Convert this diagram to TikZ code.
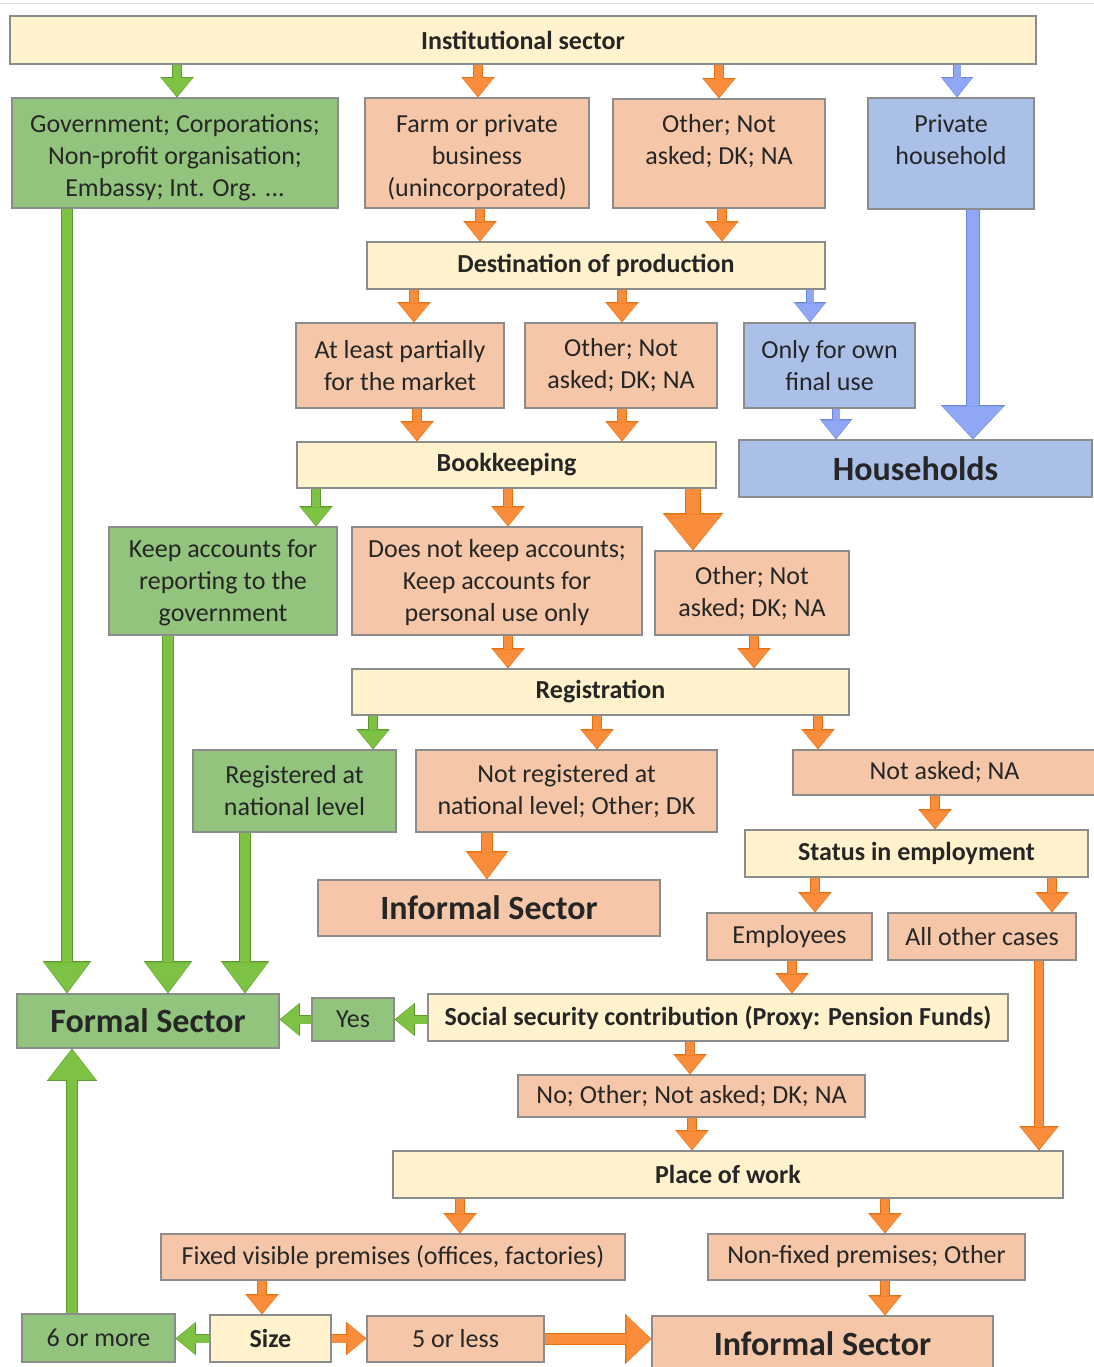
\documentclass[tikz,border=0pt]{standalone}
\usepackage{fontspec}
\setmainfont{Carlito}
\usetikzlibrary{arrows.meta}
\definecolor{cream}{HTML}{FFF2CC}
\definecolor{salmon}{HTML}{F5C7A8}
\definecolor{grn}{HTML}{93C47D}
\definecolor{blu}{HTML}{ABC0E8}
\definecolor{bordc}{HTML}{8C8C8C}
\definecolor{txtc}{HTML}{262626}
\definecolor{oF}{HTML}{F98D3B}
\definecolor{oE}{HTML}{E4700F}
\definecolor{gF}{HTML}{7DC242}
\definecolor{gE}{HTML}{5C9A2C}
\definecolor{bF}{HTML}{8FA7F5}
\definecolor{bE}{HTML}{6C86DA}
\tikzset{
  box/.style={draw=bordc, line width=1.1pt, align=center, inner sep=0pt, text=txtc,
    font=\fontsize{26}{32}\selectfont},
  txtlab/.style={align=center, inner sep=0pt, text=txtc, font=\fontsize{26}{32}\selectfont},
  cbox/.style={box, fill=cream, font=\fontsize{26}{32}\selectfont\bfseries},
  sbox/.style={box, fill=salmon},
  gbox/.style={box, fill=grn},
  bbox/.style={box, fill=blu},
  bigtxt/.style={font=\fontsize{34}{40}\selectfont\bfseries},
  barrow/.code n args={5}{%
    \pgfmathsetmacro\baOW{#3+1.6}%
    \pgfmathsetmacro\baHW{#4+2.6}%
    \pgfmathsetmacro\baHL{#5+2.4}%
    \edef\baTmp{\noexpand\tikzset{preaction={draw=#2, line width=\baOW pt, shorten >=0pt,
      -{Triangle[width=\baHW pt, length=\baHL pt, line width=0pt]}},
      draw=#1, line width=#3pt, shorten >=1.2pt,
      -{Triangle[width=#4pt, length=#5pt, line width=0pt]}}}%
    \baTmp},
  oa/.style={barrow={oF}{oE}{8}{31}{18}},
  ga/.style={barrow={gF}{gE}{8}{31}{18}},
  ba/.style={barrow={bF}{bE}{7}{30}{18}},
}
\begin{document}
\begin{tikzpicture}[x=1pt,y=-1pt]
\useasboundingbox (0,0) rectangle (1094,1367);
\draw[draw=black!12, line width=1pt] (0,4) -- (1094,4);
% nodes
\node[cbox, minimum width=1026, minimum height=48] (inst) at (523,40) {Institutional sector};
\node[gbox, minimum width=326, minimum height=110,
  label={[txtlab, yshift=-5pt]center:{Government; Corporations;\\Non-profit organisation;\\Embassy; Int. Org. ...}}] (gov) at (175,153) {};
\node[sbox, minimum width=224, minimum height=110,
  label={[txtlab, yshift=-5pt]center:{Farm or private\\business\\(unincorporated)}}] (farm) at (477,153) {};
\node[sbox, minimum width=212, minimum height=109,
  label={[txtlab, yshift=-2pt]center:{Other; Not\\asked; DK; NA\\~}}] (oth1) at (719,153.5) {};
\node[bbox, minimum width=166, minimum height=111,
  label={[txtlab, yshift=-2pt]center:{Private\\household\\~}}] (priv) at (951,153.5) {};
\node[cbox, minimum width=458, minimum height=47] (dest) at (596,265.5) {Destination of production};
\node[sbox, minimum width=208, minimum height=85] (atl) at (400,365.5) {At least partially\\for the market};
\node[sbox, minimum width=192, minimum height=85] (oth2) at (621,365.5) {Other; Not\\asked; DK; NA};
\node[bbox, minimum width=171, minimum height=85] (own) at (829.5,365.5) {Only for own\\final use};
\node[bbox, bigtxt, minimum width=353, minimum height=57] (hh) at (915.5,468.5) {Households};
\node[cbox, minimum width=419, minimum height=46] (book) at (506.5,465) {Bookkeeping};
\node[gbox, minimum width=228, minimum height=108,
  label={[txtlab, yshift=-2pt]center:{Keep accounts for\\reporting to the\\government}}] (keep) at (223,581) {};
\node[sbox, minimum width=290, minimum height=108,
  label={[txtlab, yshift=-2pt]center:{Does not keep accounts;\\Keep accounts for\\personal use only}}] (dnk) at (497,581) {};
\node[sbox, minimum width=194, minimum height=84] (oth3) at (752,593) {Other; Not\\asked; DK; NA};
\node[cbox, minimum width=497, minimum height=46] (reg) at (600.5,692) {Registration};
\node[gbox, minimum width=203, minimum height=82] (regn) at (294.5,791) {Registered at\\national level};
\node[sbox, minimum width=301, minimum height=82] (nreg) at (566.5,791) {Not registered at\\national level; Other; DK};
\node[sbox, minimum width=303, minimum height=45] (nask) at (944.5,772.5) {Not asked; NA};
\node[sbox, bigtxt, minimum width=342, minimum height=56] (inf1) at (489,908) {Informal Sector};
\node[cbox, minimum width=343, minimum height=47] (stat) at (916.5,853.5) {Status in employment};
\node[sbox, minimum width=165, minimum height=47] (emp) at (789.5,936.5) {Employees};
\node[sbox, minimum width=188, minimum height=47] (allo) at (982,936.5) {All other cases};
\node[gbox, bigtxt, minimum width=262, minimum height=54] (formal) at (148,1021) {Formal Sector};
\node[gbox, minimum width=82, minimum height=43] (yes) at (353,1019.5) {Yes};
\node[cbox, minimum width=580, minimum height=47] (soc) at (718,1017.5) {Social security contribution (Proxy: Pension Funds)};
\node[sbox, minimum width=347, minimum height=42] (no) at (691.5,1096) {No; Other; Not asked; DK; NA};
\node[cbox, minimum width=670, minimum height=47] (pow) at (728,1174.5) {Place of work};
\node[sbox, minimum width=464, minimum height=46] (fix) at (393,1257) {Fixed visible premises (offices, factories)};
\node[sbox, minimum width=317, minimum height=46] (nonf) at (866.5,1257) {Non-fixed premises; Other};
\node[gbox, minimum width=153, minimum height=48] (six) at (98.5,1338) {6 or more};
\node[cbox, minimum width=121, minimum height=47] (size) at (270.5,1338.5) {Size};
\node[sbox, minimum width=177, minimum height=46] (five) at (455.5,1339) {5 or less};
\node[sbox, bigtxt, minimum width=341, minimum height=56] (inf2) at (822.5,1344) {Informal Sector};
% arrows
\draw[ga] (inst.south -| 177,0) -- (gov.north -| 177,0);
\draw[oa] (inst.south -| 478,0) -- (farm.north -| 478,0);
\draw[oa] (inst.south -| 719,0) -- (oth1.north -| 719,0);
\draw[ba] (inst.south -| 957,0) -- (priv.north -| 957,0);
\draw[oa] (farm.south -| 480,0) -- (dest.north -| 480,0);
\draw[oa] (oth1.south -| 722,0) -- (dest.north -| 722,0);
\draw[oa] (dest.south -| 414,0) -- (atl.north -| 414,0);
\draw[oa] (dest.south -| 622,0) -- (oth2.north -| 622,0);
\draw[ba] (dest.south -| 810,0) -- (own.north -| 810,0);
\draw[oa] (atl.south -| 417,0) -- (book.north -| 417,0);
\draw[oa] (oth2.south -| 622,0) -- (book.north -| 622,0);
\draw[ba] (own.south -| 836,0) -- (hh.north -| 836,0);
\draw[barrow={bF}{bE}{12}{62}{32}] (priv.south -| 973,0) -- (hh.north -| 973,0);
\draw[ga] (book.south -| 316,0) -- (keep.north -| 316,0);
\draw[oa] (book.south -| 508,0) -- (dnk.north -| 508,0);
\draw[barrow={oF}{oE}{14}{58}{35}] (book.south -| 693,0) -- (oth3.north -| 693,0);
\draw[oa] (dnk.south -| 508,0) -- (reg.north -| 508,0);
\draw[oa] (oth3.south -| 754,0) -- (reg.north -| 754,0);
\draw[ga] (reg.south -| 373,0) -- (regn.north -| 373,0);
\draw[oa] (reg.south -| 597,0) -- (nreg.north -| 597,0);
\draw[oa] (reg.south -| 818,0) -- (nask.north -| 818,0);
\draw[barrow={oF}{oE}{10}{40}{26}] (nreg.south -| 487,0) -- (inf1.north -| 487,0);
\draw[oa] (nask.south -| 935,0) -- (stat.north -| 935,0);
\draw[oa] (stat.south -| 815,0) -- (emp.north -| 815,0);
\draw[oa] (stat.south -| 1052,0) -- (allo.north -| 1052,0);
\draw[barrow={gF}{gE}{10}{46}{30}] (gov.south -| 67,0) -- (formal.north -| 67,0);
\draw[barrow={gF}{gE}{10}{46}{30}] (keep.south -| 168,0) -- (formal.north -| 168,0);
\draw[barrow={gF}{gE}{10}{46}{30}] (regn.south -| 245,0) -- (formal.north -| 245,0);
\draw[ga] (soc.west |- yes.east) -- (yes.east);
\draw[ga] (yes.west) -- (yes.west -| formal.east);
\draw[oa] (emp.south -| 792,0) -- (soc.north -| 792,0);
\draw[oa] (soc.south -| 690,0) -- (no.north -| 690,0);
\draw[oa] (no.south -| 692,0) -- (pow.north -| 692,0);
\draw[barrow={oF}{oE}{8}{37}{22}] (allo.south -| 1039,0) -- (pow.north -| 1039,0);
\draw[oa] (pow.south -| 460,0) -- (fix.north -| 460,0);
\draw[oa] (pow.south -| 885,0) -- (nonf.north -| 885,0);
\draw[oa] (fix.south -| 262,0) -- (size.north -| 262,0);
\draw[oa] (nonf.south -| 885,0) -- (inf2.north -| 885,0);
\draw[ga] (size.west) -- (size.west -| six.east);
\draw[oa] (size.east) -- (size.east -| five.west);
\draw[barrow={oF}{oE}{10}{48}{24}] (five.east) -- (five.east -| inf2.west);
\draw[barrow={gF}{gE}{10}{48}{30}] (six.north -| 72,0) -- (formal.south -| 72,0);
\end{tikzpicture}
\end{document}
